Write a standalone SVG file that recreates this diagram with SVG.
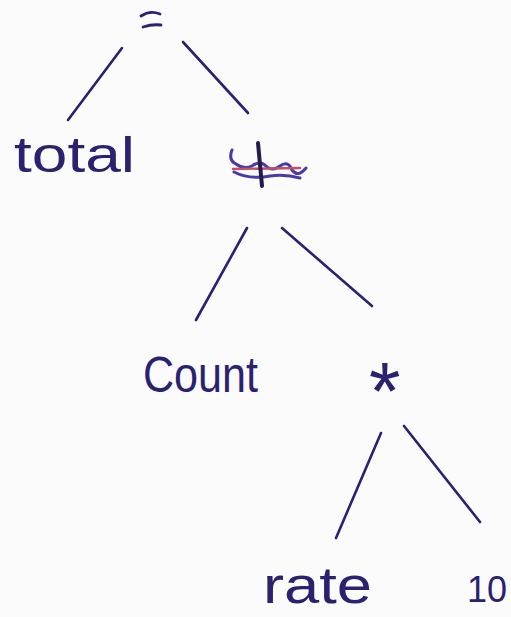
<svg xmlns="http://www.w3.org/2000/svg" width="511" height="617" viewBox="0 0 511 617">
  <style>
    .ink { fill: #2a2270; font-family: "Liberation Sans", "DejaVu Sans", sans-serif; }
    .edge { stroke: #2a2270; stroke-width: 2.6; stroke-linecap: round; fill: none; }
  </style>
  <rect width="511" height="617" fill="#fbfbfb"/>

  <!-- tree edges -->
  <g id="connectors">
    <line class="edge" x1="122" y1="48" x2="68" y2="120"/>
    <line class="edge" x1="183" y1="42" x2="248" y2="113"/>
    <line class="edge" x1="247" y1="228" x2="196" y2="320"/>
    <line class="edge" x1="282" y1="228" x2="372" y2="306"/>
    <line class="edge" x1="381" y1="433" x2="336" y2="538"/>
    <line class="edge" x1="404" y1="426" x2="480" y2="522"/>
  </g>

  <!-- root: assignment -->
  <g id="node-assign">
    <path d="M141 16 Q150 10 160 14 M143 27 Q152 24 161 25" stroke="#2a2270" stroke-width="2.8" stroke-linecap="round" fill="none"/>
  </g>

  <g id="node-total">
    <text class="ink" x="14" y="172" font-size="50" textLength="121" lengthAdjust="spacingAndGlyphs">total</text>
  </g>

  <!-- struck-out operator node -->
  <g id="node-plus">
    <path d="M232 150 Q228 160 236 164 Q244 170 252 166 Q260 160 266 166 Q272 172 280 166 Q288 160 292 170 Q298 178 306 168 M234 172 Q250 180 270 176 Q285 174 300 178" stroke="#4a3aa8" stroke-width="3" stroke-linecap="round" fill="none"/>
    <line x1="233" y1="169" x2="300" y2="168" stroke="#c0506a" stroke-width="2.4" stroke-linecap="round"/>
    <line x1="258" y1="143" x2="262" y2="186" stroke="#241a50" stroke-width="4" stroke-linecap="round"/>
  </g>

  <g id="node-count">
    <text class="ink" x="143" y="392" font-size="50" textLength="115" lengthAdjust="spacingAndGlyphs">Count</text>
  </g>

  <g id="node-mul">
    <text class="ink" x="369" y="419" font-size="81">*</text>
  </g>

  <g id="node-rate">
    <text class="ink" x="263" y="603" font-size="52" textLength="109" lengthAdjust="spacingAndGlyphs">rate</text>
  </g>

  <g id="node-ten">
    <text class="ink" x="467" y="602" font-size="36">10</text>
  </g>
</svg>
